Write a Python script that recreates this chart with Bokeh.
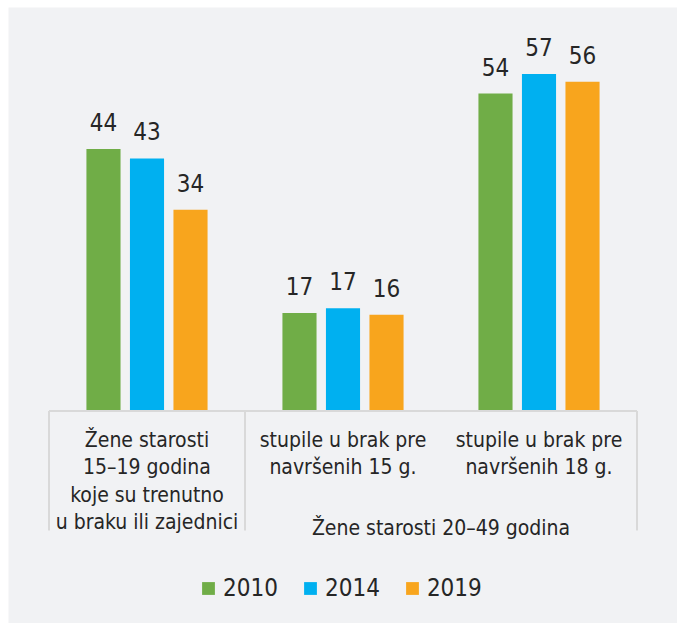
from bokeh.plotting import figure
from bokeh.models import ColumnDataSource, FactorRange, Range1d, Legend, LegendItem
from bokeh.transform import dodge
from bokeh.core.properties import value
from bokeh.embed import file_html
from bokeh.resources import INLINE

# ---- data ----
categories = [
    "Žene starosti\n15–19 godina\nkoje su trenutno\nu braku ili zajednici",
    "stupile u brak pre\nnavršenih 15 g.",
    "stupile u brak pre\nnavršenih 18 g.",
]
group_label = "Žene starosti 20–49 godina"
years = ["2010", "2014", "2019"]
v2010 = [44.4, 16.6, 53.8]
v2014 = [42.8, 17.4, 57.1]
v2019 = [34.1, 16.3, 55.8]
colors = ["#70ad47", "#00b0f0", "#f8a51d"]

FONT = "DejaVu Sans Condensed"
TXT = "#262626"
BG = "#f1f2f4"
LINE = "#d9d9d9"

series = [v2010, v2014, v2019]
src = ColumnDataSource(dict(
    cat=categories,
    **{f"y{i}": s for i, s in enumerate(series)},
    **{f"l{i}": [str(round(v)) for v in s] for i, s in enumerate(series)},
))

p = figure(
    x_range=FactorRange(factors=categories, range_padding=0.2066, range_padding_units="absolute"),
    y_range=Range1d(-36.02, 68.39),
    width=677, height=623,
    output_backend="svg", toolbar_location=None,
    x_axis_location=None, y_axis_location=None,
    min_border=0, min_border_left=8, min_border_top=7,
)
p.grid.visible = False
p.outline_line_color = None
p.background_fill_color = BG
p.border_fill_color = "white"

offsets = [-0.222, 0.0, 0.222]
bar_w = 0.174
legend_items = []
for i, (yr, col, off) in enumerate(zip(years, colors, offsets)):
    r = p.vbar(x=dodge("cat", off, range=p.x_range), top=f"y{i}", width=bar_w,
               source=src, fill_color=col, line_color=None)
    legend_items.append(LegendItem(label=yr, renderers=[r]))
    p.text(x=dodge("cat", off, range=p.x_range), y=f"y{i}", text=f"l{i}", source=src,
           text_align="center", text_baseline="alphabetic", y_offset=-27,
           text_font=value(FONT), text_font_size="24px", text_color=TXT)

# baseline and separators
p.segment(x0=dodge("cat", -0.5, range=p.x_range), y0=0, x1=dodge("cat", 0.5, range=p.x_range), y1=0,
          source=src, line_color=LINE, line_width=2)
p.segment(x0=dodge("cat", -0.5, range=p.x_range), y0=0,
          x1=dodge("cat", -0.5, range=p.x_range), y1=-20.25,
          source=ColumnDataSource(dict(cat=categories[:2])), line_color=LINE, line_width=2)
p.segment(x0=dodge("cat", 0.5, range=p.x_range), y0=0,
          x1=dodge("cat", 0.5, range=p.x_range), y1=-20.25,
          source=ColumnDataSource(dict(cat=categories[2:])), line_color=LINE, line_width=2)

# category labels
p.text(x="cat", y=-2.8, text="cat", source=src,
       text_align="center", text_baseline="top", text_line_height=1.15,
       text_font=value(FONT), text_font_size="21px", text_color=TXT)
p.text(x=dodge("cat", 0.5, range=p.x_range), y=-19.8, text="lab",
       source=ColumnDataSource(dict(cat=[categories[1]], lab=[group_label])),
       text_align="center", text_baseline="middle",
       text_font=value(FONT), text_font_size="21px", text_color=TXT)

legend = Legend(items=legend_items, orientation="horizontal", location=(192, 21),
                background_fill_alpha=0, border_line_alpha=0, padding=0, margin=0,
                glyph_width=16, glyph_height=16, label_standoff=7, spacing=24,
                label_text_font=FONT, label_text_font_size="24px", label_text_color=TXT,
                label_height=20)
p.add_layout(legend, "center")

open("out.html", "w").write(file_html(p, INLINE))
